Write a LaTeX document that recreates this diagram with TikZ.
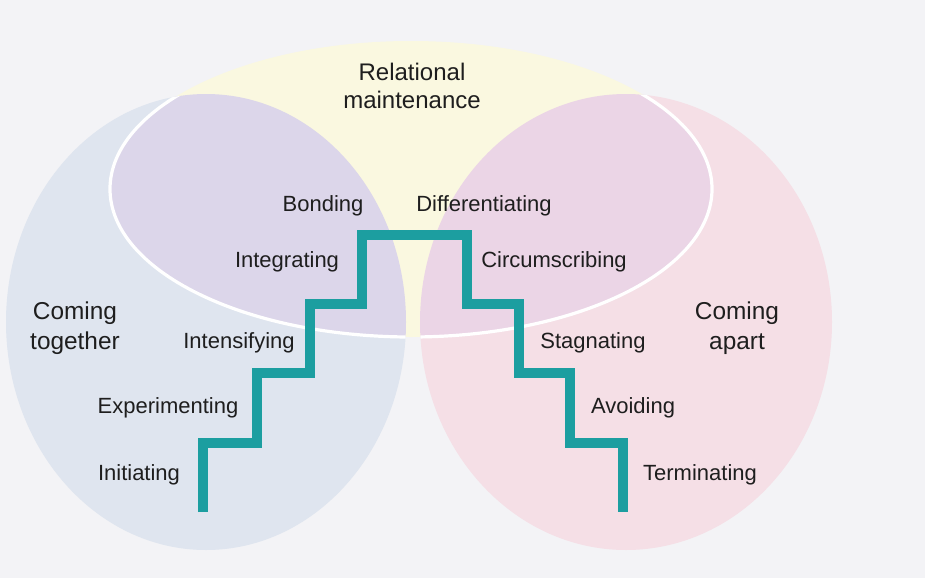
\documentclass[tikz,border=0pt]{standalone}
\usepackage{fontspec}
\setmainfont{Liberation Sans}
\definecolor{paper}{HTML}{F3F3F6}
\definecolor{togetherblue}{HTML}{DFE5EF}
\definecolor{apartpink}{HTML}{F5DFE6}
\definecolor{maintyellow}{HTML}{FAF8E0}
\definecolor{overlappurple}{HTML}{DCD6EA}
\definecolor{overlapmauve}{HTML}{EBD5E6}
\definecolor{stairteal}{HTML}{1C9EA0}
\definecolor{inkgray}{HTML}{1E1E1E}

\begin{document}
\begin{tikzpicture}[x=0.5pt,y=-0.5pt,
  stage/.style={font=\fontsize{11}{13}\selectfont,text=inkgray,inner sep=0pt},
  phase/.style={font=\fontsize{12.2}{15}\selectfont,text=inkgray,align=center,inner sep=0pt},
  stair/.style={draw=stairteal,line width=5pt,line join=miter}]
% Background
\fill[paper] (0,0) rectangle (925,578);
% Three phases
\fill[togetherblue] (206,322) ellipse [x radius=200, y radius=228];
\fill[apartpink] (626,322) ellipse [x radius=206, y radius=228];
\fill[maintyellow] (411,189) ellipse [x radius=301, y radius=148];
% Overlaps with maintenance
\begin{scope}
  \clip (411,189) ellipse [x radius=301, y radius=148];
  \fill[overlappurple] (206,322) ellipse [x radius=200, y radius=228];
  \fill[overlapmauve] (626,322) ellipse [x radius=206, y radius=228];
\end{scope}
% White rim of maintenance inside the side phases
\foreach \cx/\rx in {206/200, 626/206} {
  \begin{scope}
    \clip (\cx,322) ellipse [x radius=\rx, y radius=228];
    \draw[white, line width=1.6pt] (411,189) ellipse [x radius=301, y radius=148];
  \end{scope}
}
% Staircase
\draw[stair] (203,512) |- (257,443) |- (310,373) |- (362,304) |- (467,235)
  |- (519,304) |- (570,373) |- (623,443) -- (623,512);
% Phase labels
\node[phase, font=\fontsize{12}{14}\selectfont] (maintenance) at (412,86) {Relational\\maintenance};
\node[phase] (together) at (75,328) {Coming\\together};
\node[phase] (apart) at (737,328) {Coming\\apart};
% Stage labels
\foreach \name/\x/\y/\txt in {initiating/139/475/Initiating, experimenting/168/408/Experimenting,
    intensifying/239/343/Intensifying, integrating/287/262/Integrating, bonding/323/206/Bonding,
    differentiating/484/206/Differentiating, circumscribing/554/262/Circumscribing,
    stagnating/593/343/Stagnating, avoiding/633/408/Avoiding, terminating/700/475/Terminating} {
  \node[stage] (\name) at (\x,\y) {\txt};
}
\end{tikzpicture}
\end{document}
